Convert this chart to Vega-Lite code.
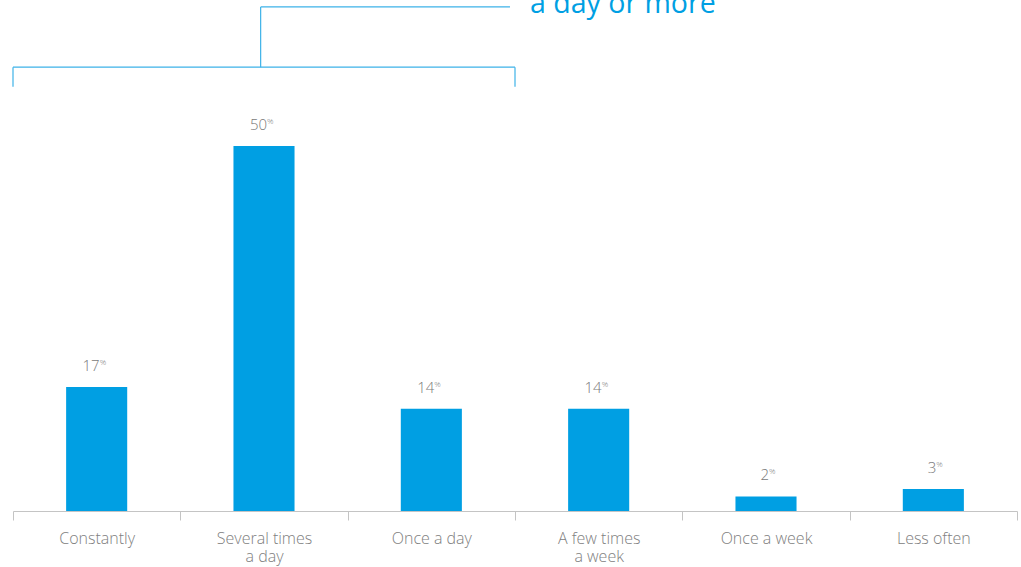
{
  "$schema": "https://vega.github.io/schema/vega-lite/v6.json",
  "width": 1004,
  "height": 511,
  "autosize": {"type": "none"},
  "padding": {"left": 13, "top": 0, "right": 4, "bottom": 56},
  "config": {"view": {"stroke": null}, "font": "Open Sans"},
  "datasets": {
    "bars": [
      {"cat": "Constantly", "value": 17},
      {"cat": "Several times|a day", "value": 50},
      {"cat": "Once a day", "value": 14},
      {"cat": "A few times|a week", "value": 14},
      {"cat": "Once a week", "value": 2},
      {"cat": "Less often", "value": 3}
    ],
    "bracket": [
      {"x": 0, "x2": 0, "y": 58.1, "y2": 60.8},
      {"x": 0, "x2": 3, "y": 60.8, "y2": 60.8},
      {"x": 3, "x2": 3, "y": 58.1, "y2": 60.8},
      {"x": 1.48, "x2": 1.48, "y": 60.8, "y2": 69.05},
      {"x": 1.48, "x2": 2.97, "y": 69.05, "y2": 69.05}
    ],
    "note": [{"x": 3.09, "y": 68.2, "label": "a day or more"}]
  },
  "layer": [
    {
      "data": {"name": "bars"},
      "encoding": {
        "x": {
          "field": "cat", "type": "nominal", "sort": null,
          "scale": {"paddingInner": 0, "paddingOuter": 0},
          "axis": {
            "title": null, "labelAngle": 0, "tickBand": "extent",
            "domainColor": "#c4c4c4", "tickColor": "#c4c4c4", "tickSize": 9,
            "labelPadding": 10, "labelColor": "#808080", "labelFont": "Open Sans",
            "labelFontSize": 16, "labelLineHeight": 18, "labelFontWeight": 300,
            "labelExpr": "split(datum.label, '|')"
          }
        },
        "y": {"field": "value", "type": "quantitative", "scale": {"domain": [0, 70]}, "axis": null}
      },
      "layer": [
        {"mark": {"type": "bar", "color": "#009fe3", "width": {"band": 0.365}}},
        {"mark": {"type": "text", "align": "right", "baseline": "alphabetic", "dx": 3, "dy": -16, "fontSize": 15, "fontWeight": 300, "fill": "#7a7a7a"},
         "encoding": {"text": {"field": "value", "type": "quantitative"}}},
        {"mark": {"type": "text", "align": "left", "baseline": "alphabetic", "dx": 3, "dy": -22, "fontSize": 8, "fontWeight": 300, "fill": "#7a7a7a", "text": "%"}}
      ]
    },
    {
      "data": {"name": "bracket"},
      "mark": {"type": "rule", "color": "#3db2e8", "strokeWidth": 1.2},
      "encoding": {
        "x": {"field": "x", "type": "quantitative", "scale": {"domain": [0, 6], "nice": false, "zero": false}, "axis": null},
        "x2": {"field": "x2"},
        "y": {"field": "y", "type": "quantitative"},
        "y2": {"field": "y2"}
      }
    },
    {
      "data": {"name": "note"},
      "mark": {"type": "text", "align": "left", "baseline": "alphabetic", "fontSize": 28.5, "fontWeight": 400, "fill": "#009fe3"},
      "encoding": {
        "x": {"field": "x", "type": "quantitative", "scale": {"domain": [0, 6], "nice": false, "zero": false}, "axis": null},
        "y": {"field": "y", "type": "quantitative"},
        "text": {"field": "label"}
      }
    }
  ],
  "resolve": {"scale": {"x": "independent"}}
}
